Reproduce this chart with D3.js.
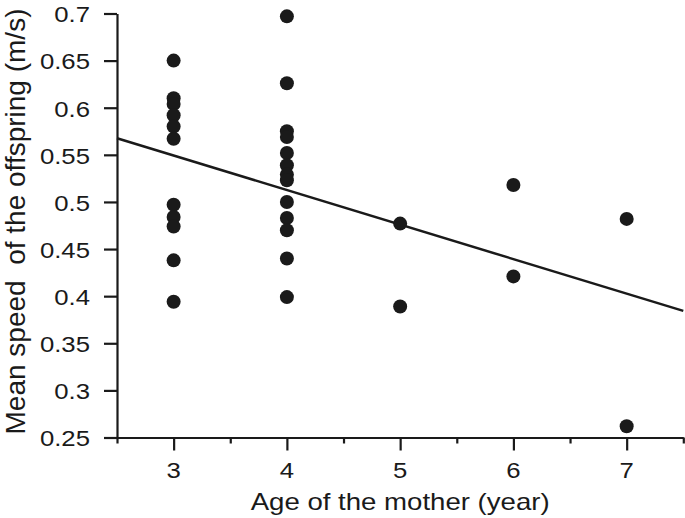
<!DOCTYPE html>
<html>
<head>
<meta charset="utf-8">
<script src="https://cdn.jsdelivr.net/npm/d3@7"></script>
<style>
  html, body { margin: 0; padding: 0; background: #fff; }
  svg { display: block; }
  text { font-family: "Liberation Sans", Arial, Helvetica, sans-serif; fill: #1a1a1a; }
</style>
</head>
<body>
<svg id="chart" width="685" height="518"></svg>
<script>
// ---- data ----
const ages = [3,3,3,3,3,3,3,3,3,3,3,
              4,4,4,4,4,4,4,4,4,4,4,4,4,
              5,5, 6,6, 7,7];
const speeds = [0.650,0.610,0.604,0.592,0.580,0.567,0.497,0.484,0.474,0.438,0.394,
                0.697,0.626,0.575,0.569,0.552,0.539,0.529,0.523,0.500,0.483,0.470,0.440,0.399,
                0.477,0.389, 0.518,0.421, 0.482,0.262];
const xTicks = [3,4,5,6,7];
const xMinorTicks = [2.5,3.5,4.5,5.5,6.5,7.5];
const yTicks = [0.25,0.3,0.35,0.4,0.45,0.5,0.55,0.6,0.65,0.7];
const yTickLabels = ["0.25","0.3","0.35","0.4","0.45","0.5","0.55","0.6","0.65","0.7"];
const fitIntercept = 0.6593;
const fitSlope = -0.03666;
const xTitle = "Age of the mother (year)";
const yTitle = "Mean speed  of the offspring (m/s)";

// ---- chart ----
const svg = d3.select("#chart");
const x = d3.scaleLinear().domain([2.5, 7.5]).range([117, 683.3]);
const y = d3.scaleLinear().domain([0.25, 0.7]).range([437.5, 13.5]);
const ink = "#1a1a1a";

// Y axis
const yAxis = svg.append("g").attr("transform", `translate(${x(2.5)},0)`)
  .call(d3.axisLeft(y).tickValues(yTicks).tickSize(13).tickSizeOuter(0).tickFormat(""));
yAxis.select(".domain").attr("stroke", ink).attr("stroke-width", 2.2);
yAxis.selectAll(".tick line").attr("stroke", ink).attr("stroke-width", 2.2);

// Y tick labels
svg.append("g").selectAll("text").data(yTicks).join("text")
  .attr("transform", (d) => `translate(90,${y(d)}) scale(1.17,1)`)
  .attr("text-anchor", "end")
  .attr("dy", "0.40em")
  .style("font-size", "22px")
  .text((d, i) => yTickLabels[i]);

// X axis (major)
const xAxis = svg.append("g").attr("transform", `translate(0,${y(0.25)})`)
  .call(d3.axisBottom(x).tickValues(xTicks).tickSize(13).tickSizeOuter(0).tickFormat(""));
xAxis.select(".domain").attr("stroke", ink).attr("stroke-width", 2.2);
xAxis.selectAll(".tick line").attr("stroke", ink).attr("stroke-width", 2.2);

// X axis (minor)
const xMinor = svg.append("g").attr("transform", `translate(0,${y(0.25)})`)
  .call(d3.axisBottom(x).tickValues(xMinorTicks).tickSize(6).tickSizeOuter(0).tickFormat(""));
xMinor.select(".domain").remove();
xMinor.selectAll(".tick line").attr("stroke", ink).attr("stroke-width", 2.2);

// X tick labels
svg.append("g").selectAll("text").data(xTicks).join("text")
  .attr("transform", (d) => `translate(${x(d)},478) scale(1.17,1)`)
  .attr("text-anchor", "middle")
  .style("font-size", "22px")
  .text((d) => d);

// Titles
svg.append("text")
  .attr("transform", `translate(${(x(2.5) + x(7.5)) / 2},510) scale(1.2,1)`)
  .attr("text-anchor", "middle")
  .style("font-size", "23px")
  .text(xTitle);

svg.append("text")
  .attr("transform", `translate(25,${(y(0.25) + y(0.7)) / 2 - 4}) rotate(-90)`)
  .attr("text-anchor", "middle")
  .style("font-size", "28px")
  .style("white-space", "pre")
  .text(yTitle);

// Regression line
const fitX = [2.5, 7.5];
svg.append("line")
  .attr("x1", x(fitX[0])).attr("y1", y(fitIntercept + fitSlope * fitX[0]))
  .attr("x2", x(fitX[1])).attr("y2", y(fitIntercept + fitSlope * fitX[1]))
  .attr("stroke", ink).attr("stroke-width", 2.5);

// Points
svg.append("g").selectAll("circle").data(ages.map((a, i) => [a, speeds[i]])).join("circle")
  .attr("cx", (d) => x(d[0]))
  .attr("cy", (d) => y(d[1]))
  .attr("r", 7)
  .attr("fill", ink);
</script>
</body>
</html>
